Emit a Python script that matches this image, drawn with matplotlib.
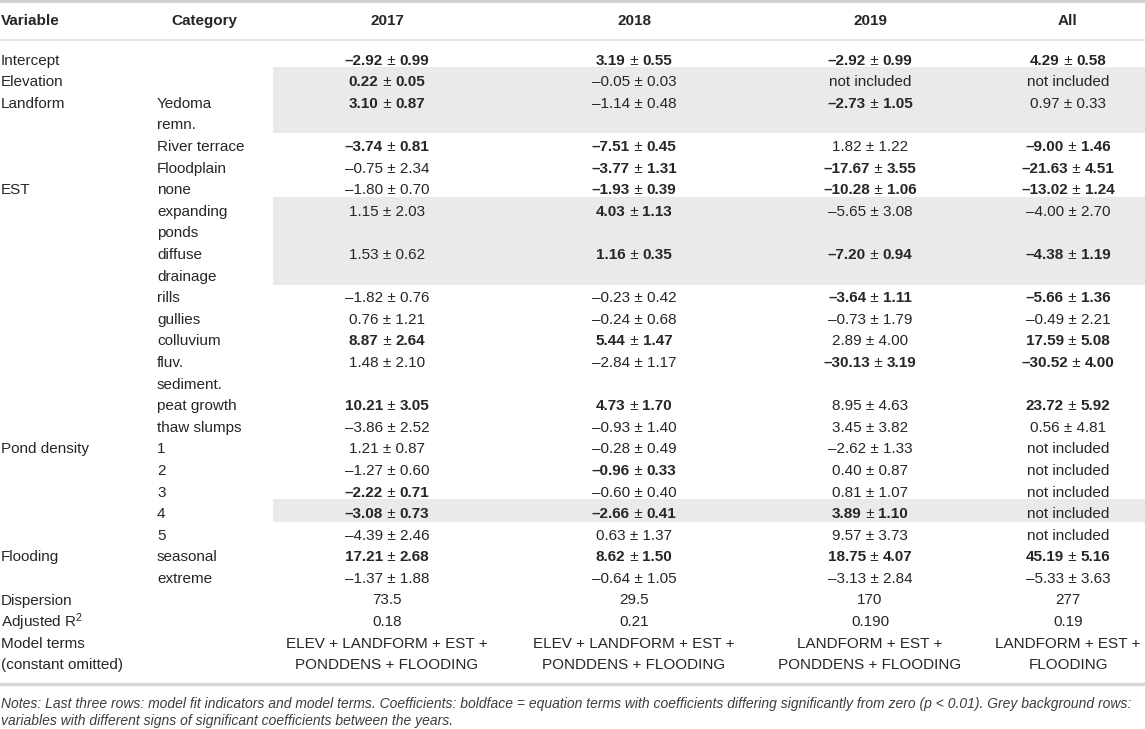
import matplotlib
matplotlib.use("Agg")
import matplotlib.pyplot as plt

plt.rcParams["font.family"] = ["Liberation Sans", "DejaVu Sans"]
plt.rcParams["mathtext.fontset"] = "custom"
plt.rcParams["mathtext.rm"] = "Liberation Sans"
plt.rcParams["mathtext.it"] = "Liberation Sans:italic"

# column headers
headers = ["Variable", "Category", "2017", "2018", "2019", "All"]

# one entry per table row ("\n" = wrapped cell)
variables = ["Intercept", "Elevation", "Landform", "", "", "EST", "", "", "", "", "",
             "", "", "", "Pond density", "", "", "", "", "Flooding", "",
             "Dispersion", "Adjusted R$^2$", "Model terms\n(constant omitted)"]
categories = ["", "", "Yedoma\nremn.", "River terrace", "Floodplain", "none",
              "expanding\nponds", "diffuse\ndrainage", "rills", "gullies", "colluvium",
              "fluv.\nsediment.", "peat growth", "thaw slumps", "1", "2", "3", "4", "5",
              "seasonal", "extreme", "", "", ""]

NI = "not included"
v2017 = ["–2.92 ± 0.99", "0.22 ± 0.05", "3.10 ± 0.87", "–3.74 ± 0.81", "–0.75 ± 2.34",
         "–1.80 ± 0.70", "1.15 ± 2.03", "1.53 ± 0.62", "–1.82 ± 0.76", "0.76 ± 1.21",
         "8.87 ± 2.64", "1.48 ± 2.10", "10.21 ± 3.05", "–3.86 ± 2.52", "1.21 ± 0.87",
         "–1.27 ± 0.60", "–2.22 ± 0.71", "–3.08 ± 0.73", "–4.39 ± 2.46", "17.21 ± 2.68",
         "–1.37 ± 1.88", "73.5", "0.18", "ELEV + LANDFORM + EST +\nPONDDENS + FLOODING"]
v2018 = ["3.19 ± 0.55", "–0.05 ± 0.03", "–1.14 ± 0.48", "–7.51 ± 0.45", "–3.77 ± 1.31",
         "–1.93 ± 0.39", "4.03 ± 1.13", "1.16 ± 0.35", "–0.23 ± 0.42", "–0.24 ± 0.68",
         "5.44 ± 1.47", "–2.84 ± 1.17", "4.73 ± 1.70", "–0.93 ± 1.40", "–0.28 ± 0.49",
         "–0.96 ± 0.33", "–0.60 ± 0.40", "–2.66 ± 0.41", "0.63 ± 1.37", "8.62 ± 1.50",
         "–0.64 ± 1.05", "29.5", "0.21", "ELEV + LANDFORM + EST +\nPONDDENS + FLOODING"]
v2019 = ["–2.92 ± 0.99", NI, "–2.73 ± 1.05", "1.82 ± 1.22", "–17.67 ± 3.55",
         "–10.28 ± 1.06", "–5.65 ± 3.08", "–7.20 ± 0.94", "–3.64 ± 1.11", "–0.73 ± 1.79",
         "2.89 ± 4.00", "–30.13 ± 3.19", "8.95 ± 4.63", "3.45 ± 3.82", "–2.62 ± 1.33",
         "0.40 ± 0.87", "0.81 ± 1.07", "3.89 ± 1.10", "9.57 ± 3.73", "18.75 ± 4.07",
         "–3.13 ± 2.84", "170", "0.190", "LANDFORM + EST +\nPONDDENS + FLOODING"]
vall = ["4.29 ± 0.58", NI, "0.97 ± 0.33", "–9.00 ± 1.46", "–21.63 ± 4.51",
        "–13.02 ± 1.24", "–4.00 ± 2.70", "–4.38 ± 1.19", "–5.66 ± 1.36", "–0.49 ± 2.21",
        "17.59 ± 5.08", "–30.52 ± 4.00", "23.72 ± 5.92", "0.56 ± 4.81", NI,
        NI, NI, NI, NI, "45.19 ± 5.16",
        "–5.33 ± 3.63", "277", "0.19", "LANDFORM + EST +\nFLOODING"]

# 1 = significant (boldface)
b2017 = [1, 1, 1, 1, 0, 0, 0, 0, 0, 0, 1, 0, 1, 0, 0, 0, 1, 1, 0, 1, 0, 0, 0, 0]
b2018 = [1, 0, 0, 1, 1, 1, 1, 1, 0, 0, 1, 0, 1, 0, 0, 1, 0, 1, 0, 1, 0, 0, 0, 0]
b2019 = [1, 0, 1, 0, 1, 1, 0, 1, 1, 0, 0, 1, 0, 0, 0, 0, 0, 1, 0, 1, 0, 0, 0, 0]
ball = [1, 0, 0, 1, 1, 1, 0, 1, 1, 0, 1, 1, 1, 0, 0, 0, 0, 0, 0, 1, 0, 0, 0, 0]

# rows with grey background (groups of row indices)
grey_rows = [[1, 2], [6, 7], [17]]

notes = ("Notes: Last three rows: model fit indicators and model terms. Coefficients: boldface = "
         "equation terms with coefficients differing significantly from zero (p < 0.01). Grey background rows:\n"
         "variables with different signs of significant coefficients between the years.")

W, H = 1145, 729
fig = plt.figure(figsize=(W / 100, H / 100), dpi=100)
ax = fig.add_axes([0, 0, 1, 1])
ax.set_xlim(0, W)
ax.set_ylim(H, 0)
ax.axis("off")
renderer = fig.canvas.get_renderer()

txt_col = "#262626"
fs = 11.0
pitch = 21.6
y_first = 60.5          # centre of first body line
x_var, x_cat = 1, 157
x_cols = [387, 634, 870, 1068]
shade_x = 273

nlines = [max(v.count("\n"), c.count("\n"), m.count("\n")) + 1
          for v, c, m in zip(variables, categories, v2017)]
starts = []
k = 0
for n in nlines:
    starts.append(k)
    k += n

def line_y(i):
    return y_first + pitch * i

def text_width(t):
    bb = t.get_window_extent(renderer)
    return bb.width

def centred_value(x, y, s, bold):
    # bold numbers, regular plus-minus sign
    if bold and " ± " in s:
        left, right = s.split(" ± ")
        parts = [(left, "bold"), (" ± ", "normal"), (right, "bold")]
    else:
        parts = [(s, "bold" if bold else "normal")]
    objs = [ax.text(0, y, p, fontsize=fs, fontweight=w, color=txt_col, va="center", ha="left")
            for p, w in parts]
    # pixel widths equal data units here
    widths = [text_width(o) for o in objs]
    xx = x - sum(widths) / 2
    for o, w in zip(objs, widths):
        o.set_x(xx)
        xx += w

# grey backgrounds
for grp in grey_rows:
    first, last = grp[0], grp[-1]
    y0 = line_y(starts[first]) - 15
    y1 = line_y(starts[last] + nlines[last] - 1) + 8
    ax.add_patch(plt.Rectangle((shade_x, y0), W - shade_x, y1 - y0,
                               color="#e9eae9", lw=0, zorder=0))

# rules
ax.plot([0, W], [1, 1], color="#d2d2d2", lw=2.2)
ax.plot([0, W], [39.5, 39.5], color="#e2e2e2", lw=1.3)
ax.plot([0, W], [684, 684], color="#d6d6d6", lw=2.4)

# header
ax.text(x_var, 21, headers[0], fontsize=fs, fontweight="bold", color=txt_col, va="center")
ax.text(204, 21, headers[1], fontsize=fs, fontweight="bold", color=txt_col, va="center", ha="center")
for x, h in zip(x_cols, headers[2:]):
    ax.text(x, 21, h, fontsize=fs, fontweight="bold", color=txt_col, va="center", ha="center")

cols = [(v2017, b2017), (v2018, b2018), (v2019, b2019), (vall, ball)]
for r in range(len(variables)):
    s = starts[r]
    for j, line in enumerate(variables[r].split("\n")):
        ax.text(x_var, line_y(s + j), line, fontsize=fs, color=txt_col, va="center")
    for j, line in enumerate(categories[r].split("\n")):
        ax.text(x_cat, line_y(s + j), line, fontsize=fs, color=txt_col, va="center")
    for x, (vals, bold) in zip(x_cols, cols):
        for j, line in enumerate(vals[r].split("\n")):
            centred_value(x, line_y(s + j), line, bold[r])

for j, line in enumerate(notes.split("\n")):
    ax.text(x_var, 704 + 16.5 * j, line, fontsize=10.0, style="italic", color="#3c3c3c", va="center")

fig.savefig("out.png", dpi=100)
